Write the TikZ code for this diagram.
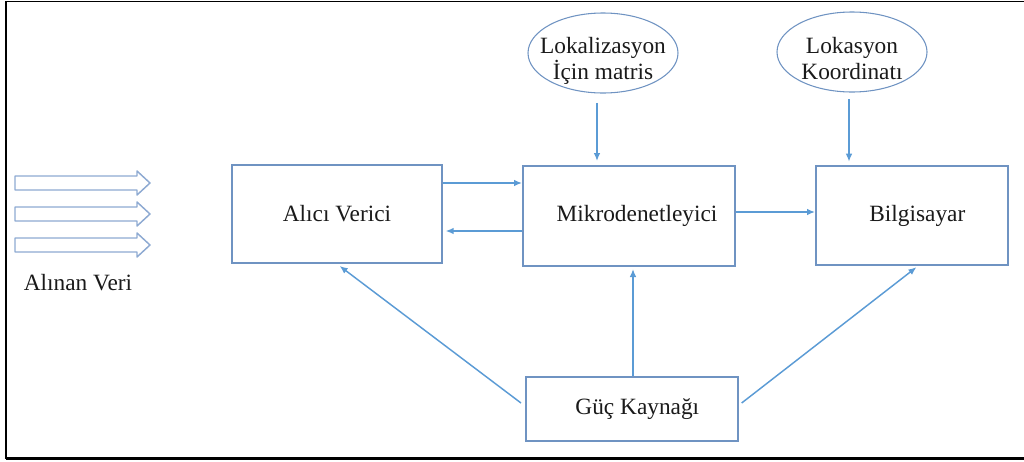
\documentclass[tikz,border=0pt]{standalone}
\usepackage{fontspec}
\setmainfont{Liberation Serif}
\usetikzlibrary{positioning,arrows.meta,shapes.geometric}
\definecolor{BoxEdge}{HTML}{6F93C2}
\definecolor{LinkBlue}{HTML}{5B9BD5}
\definecolor{BlockEdge}{HTML}{8EAAD2}
\definecolor{TextDark}{HTML}{1A1A1A}

\begin{document}
\begin{tikzpicture}[x=0.75pt,y=-0.75pt,
    unitbox/.style={draw=BoxEdge, line width=1.5pt, fill=white, inner sep=0pt,
                    text=TextDark, font=\fontsize{17.5}{22}\selectfont},
    datacloud/.style={ellipse, draw=BoxEdge, line width=0.8pt, inner sep=0pt,
                      minimum width=112.5pt, minimum height=60pt},
    cloudtext/.style={align=center, text=TextDark, font=\fontsize{17.5}{19}\selectfont},
    link/.style={draw=LinkBlue, line width=1.1pt, -{Latex[length=6pt,width=5pt]}},
    blockarrow/.style={draw=BlockEdge, line width=1.1pt, fill=white, line join=round}]
  \useasboundingbox (0,0) rectangle (1024,461);

  % frame
  \draw[line width=1.1pt] (6,1.5) -- (1024,1.5);
  \draw[line width=1.5pt] (6,1) -- (6,459);
  \draw[line width=2.25pt] (6,458.5) -- (1024,458.5);

  % incoming data
  \foreach \yy in {183,214,245}
    \draw[blockarrow] (15,\yy-7) -- (137,\yy-7) -- (137,\yy-12) -- (150,\yy)
      -- (137,\yy+12) -- (137,\yy+7) -- (15,\yy+7) -- cycle;
  \node[cloudtext] (veri) at (78,283) {Alınan Veri};

  % blocks
  \node[unitbox, minimum width=157.5pt, minimum height=73.5pt] (alici) at (337,214) {Alıcı Verici};
  \node[unitbox, minimum width=159pt, minimum height=75pt] (mcu) at (629,216) {\hspace{12pt}Mikrodenetleyici\\[-8pt]};
  \node[unitbox, minimum width=144pt, minimum height=74.25pt] (pc) at (912,215.5) {\hspace{8pt}Bilgisayar};
  \node[unitbox, minimum width=159pt, minimum height=48pt] (guc) at (632,409) {\hspace{8pt}Güç Kaynağı};

  % inputs
  \node[datacloud] (matris) at (603,53) {};
  \node[cloudtext, yshift=-6pt] (matrist) at (matris) {Lokalizasyon\\İçin matris};
  \node[datacloud] (koord) at (852,52) {};
  \node[cloudtext, yshift=-5pt] (koordt) at (koord) {Lokasyon\\Koordinatı};

  % connectors
  \draw[link] ([xshift=-4.5pt,yshift=-7pt]matris.south) -- ([xshift=-4.5pt,yshift=3pt]matris.south |- mcu.north);
  \draw[link] ([xshift=-2.25pt,yshift=-5pt]koord.south) -- ([xshift=-2.25pt,yshift=2.5pt]koord.south |- pc.north);
  \draw[link] ([yshift=23.25pt]alici.east) -- ([yshift=23.25pt]alici.east -| mcu.west);
  \draw[link, shorten >=2pt] ([yshift=-11.25pt]mcu.west) -- ([yshift=-11.25pt]mcu.west -| alici.east);
  \draw[link] ([yshift=3pt]mcu.east) -- ([yshift=3pt]mcu.east -| pc.west);
  \draw[link, shorten >=2.5pt] ([xshift=-3pt,yshift=4.5pt]guc.west) -- (alici.south);
  \draw[link, shorten >=1.5pt] ([xshift=0.75pt]guc.north) -- ([xshift=0.75pt]guc.north |- mcu.south);
  \draw[link, shorten >=1.5pt] ([xshift=2pt,yshift=4.5pt]guc.east) -- ([xshift=4.5pt]pc.south);
\end{tikzpicture}
\end{document}
